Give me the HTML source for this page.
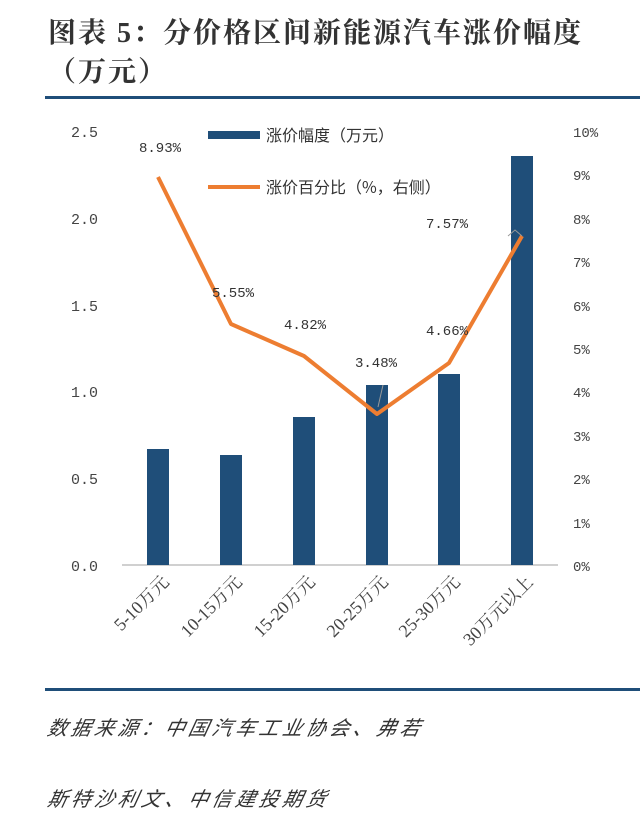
<!DOCTYPE html>
<html><head><meta charset="utf-8"><style>
body{margin:0;background:#fff;width:640px;height:823px;overflow:hidden;position:relative;font-family:"Liberation Serif","Noto Serif CJK SC",serif}
.t{position:absolute;left:48px;font-size:28px;font-weight:bold;color:#333;letter-spacing:2px;white-space:nowrap;line-height:36px}
.f{position:absolute;left:48px;font-size:20px;font-style:italic;color:#333;font-family:"Liberation Sans","Noto Sans CJK SC",sans-serif;letter-spacing:3.5px;transform:skewX(-12deg);white-space:nowrap}
</style></head><body>
<div class="t" style="top:16px">图表 5：分价格区间新能源汽车涨价幅度</div>
<div class="t" style="top:55px">（万元）</div>
<div style="position:absolute;left:45px;top:96px;width:595px;height:3px;background:#1f4e79"></div>
<div style="position:absolute;left:45px;top:688px;width:595px;height:3px;background:#1f4e79"></div>
<svg style="position:absolute;left:0;top:0" width="640" height="823" font-family="'Liberation Mono','Noto Sans CJK SC',monospace">
<g font-size="15" fill="#444" text-anchor="end">
<text x="98" y="137">2.5</text><text x="98" y="224">2.0</text><text x="98" y="311">1.5</text><text x="98" y="397">1.0</text><text x="98" y="484">0.5</text><text x="98" y="571">0.0</text>
</g>
<g font-size="14" fill="#444" text-anchor="start">
<text x="573" y="137">10%</text><text x="573" y="180">9%</text><text x="573" y="224">8%</text><text x="573" y="267">7%</text><text x="573" y="311">6%</text><text x="573" y="354">5%</text><text x="573" y="397">4%</text><text x="573" y="441">3%</text><text x="573" y="484">2%</text><text x="573" y="528">1%</text><text x="573" y="571">0%</text>
</g>
<line x1="122" y1="565" x2="558" y2="565" stroke="#d0d0d0" stroke-width="2"/>
<g fill="#1f4e79">
<rect x="147" y="449" width="22" height="116"/><rect x="220" y="455" width="22" height="110"/><rect x="293" y="417" width="22" height="148"/><rect x="366" y="385" width="22" height="180"/><rect x="438" y="374" width="22" height="191"/><rect x="511" y="156" width="22" height="409"/>
</g>
<polyline points="158,177 231,324 304,356 377,414 449,363 522,236" fill="none" stroke="#ed7d31" stroke-width="4" stroke-linejoin="round"/>
<polyline points="508,236 515,230 522,236" fill="none" stroke="#999" stroke-width="1"/>
<polyline points="378,407 383,385" fill="none" stroke="#999" stroke-width="1"/>
<g font-size="14" fill="#333" text-anchor="middle">
<text x="160" y="152">8.93%</text><text x="233" y="297">5.55%</text><text x="305" y="329">4.82%</text><text x="376" y="367">3.48%</text><text x="447" y="335">4.66%</text><text x="447" y="228">7.57%</text>
</g>
<rect x="208" y="131" width="52" height="8" fill="#1f4e79"/>
<line x1="208" y1="187" x2="260" y2="187" stroke="#ed7d31" stroke-width="4"/>
<g font-size="16" fill="#333" font-family="'Noto Sans CJK SC',sans-serif">
<text x="266" y="141">涨价幅度（万元）</text><text x="266" y="193">涨价百分比（%，右侧）</text>
</g>
<g font-size="18" fill="#444" text-anchor="end" font-family="'Liberation Serif','Noto Serif CJK SC',serif">
<text transform="translate(170,583) rotate(-45)">5-10万元</text>
<text transform="translate(243,583) rotate(-45)">10-15万元</text>
<text transform="translate(316,583) rotate(-45)">15-20万元</text>
<text transform="translate(389,583) rotate(-45)">20-25万元</text>
<text transform="translate(461,583) rotate(-45)">25-30万元</text>
<text transform="translate(534,583) rotate(-45)">30万元以上</text>
</g>
</svg>
<div class="f" style="top:712px">数据来源：中国汽车工业协会、弗若</div>
<div class="f" style="top:783px">斯特沙利文、中信建投期货</div>
</body></html>
